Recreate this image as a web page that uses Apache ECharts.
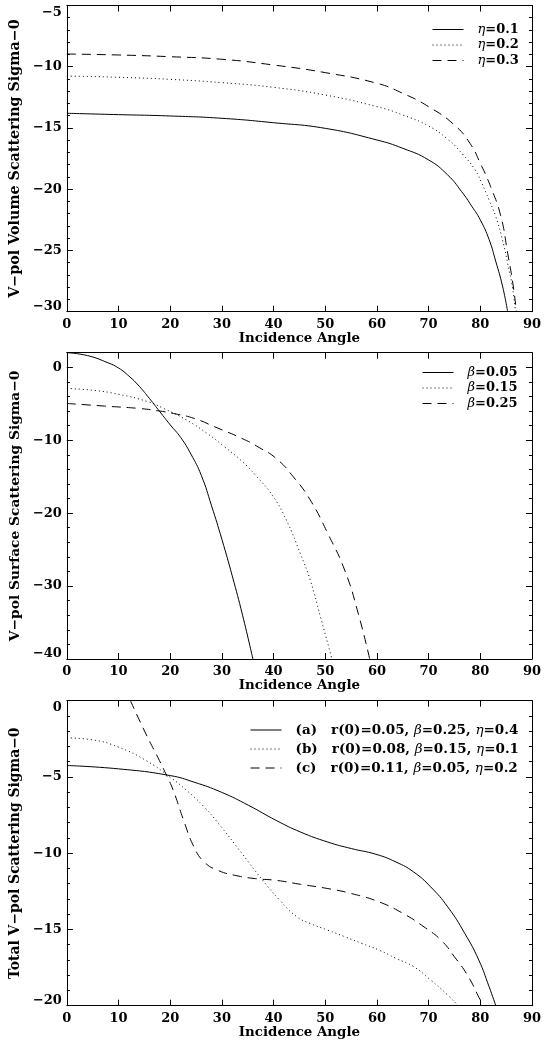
<!DOCTYPE html>
<html>
<head>
<meta charset="utf-8">
<script src="https://cdn.jsdelivr.net/npm/echarts@6/dist/echarts.min.js"></script>
<style>html,body{margin:0;padding:0;background:#fff}#c{width:544px;height:1048px}</style>
</head>
<body>
<div id="c"></div>
<script>
// ---------- Panel 1: V-pol volume scattering ----------
const vol_eta01_x = [0,10,20,30,40,50,60,65,70,73.7,76.4,78.4,80,81.7,83,84.3,85.3];
const vol_eta01_y = [-13.80,-13.91,-14.02,-14.21,-14.57,-15.03,-15.98,-16.66,-17.61,-18.84,-20.2,-21.42,-22.5,-24.1,-25.9,-27.9,-30];
const vol_eta02_x = [0,10,20,30,40,50,60,65,70,73.7,76.7,79,80.3,81.7,83,84.3,85.3,86.2,86.8];
const vol_eta02_y = [-10.76,-10.86,-11.03,-11.30,-11.68,-12.31,-13.26,-13.94,-14.84,-15.92,-17.2,-18.43,-19.51,-20.88,-22.24,-24.14,-26.05,-27.95,-30];
const vol_eta03_x = [0,10,20,30,40,50,60,65,70,75,78,80,82,84,85.3,86.3,87];
const vol_eta03_y = [-8.96,-9.04,-9.18,-9.39,-9.86,-10.48,-11.35,-12.17,-13.26,-14.76,-16.25,-17.88,-19.79,-22.24,-25.23,-27.68,-30];

// ---------- Panel 2: V-pol surface scattering ----------
const srf_b005_x = [0,4,8,10,12,14,16,18,20,22,24,26,28,30,32,34,36];
const srf_b005_y = [2.0,1.6,0.6,-0.1,-1.2,-2.6,-4.3,-6.1,-7.9,-9.6,-11.9,-14.8,-19.0,-23.6,-28.6,-34.0,-40.0];
const srf_b015_x = [0,5,10,15.6,18.6,23.2,27.2,30.5,33.9,36.5,39.8,42.5,45.2,47.1,49.1,51.3];
const srf_b015_y = [-2.9,-3.15,-3.7,-4.7,-5.6,-7.25,-9.1,-10.9,-12.9,-14.8,-17.6,-21.0,-25.6,-29.2,-34.3,-40];
const srf_b025_x = [0,7.3,13.9,17.6,20.6,24.6,28.6,33.9,37.2,40.5,43.8,47.1,50.5,53.8,56.4,58.6];
const srf_b025_y = [-4.96,-5.32,-5.64,-5.96,-6.33,-7.0,-8.16,-9.76,-11.0,-12.5,-15.0,-18.2,-22.8,-27.9,-33.8,-40];

// ---------- Panel 3: total V-pol scattering ----------
const tot_a_x = [0,10,20,24.6,29.9,35.2,40.5,45.2,50.5,55.1,59.8,63.7,67.1,70.4,73.7,77.0,79.7,81.7,83.0];
const tot_a_y = [-4.25,-4.47,-4.91,-5.34,-6.0,-6.87,-7.85,-8.61,-9.27,-9.7,-10.07,-10.58,-11.23,-12.21,-13.52,-15.26,-17.0,-18.75,-20.0];
const tot_b_x = [0,5,10,15.3,20,23.2,26.6,29.9,33.9,37.9,41.2,44.5,47.1,50.5,53.8,57.1,60.4,63.7,67.1,70.4,73.7,75.7];
const tot_b_y = [-2.44,-2.57,-3.05,-3.92,-5.02,-5.89,-6.98,-8.29,-10.03,-11.78,-13.08,-14.17,-14.61,-15.05,-15.48,-15.92,-16.35,-16.9,-17.44,-18.32,-19.3,-20.0];
const tot_c_x = [12.3,15.3,17.9,19.3,20.6,22.6,24.6,26.6,29.2,32.5,36.5,40.5,45.2,50.5,55.1,60.4,65.1,69.1,72.4,75.0,77.7,80.0,80.7];
const tot_c_y = [0,-2.18,-3.92,-4.91,-5.89,-7.85,-9.59,-10.58,-11.12,-11.45,-11.67,-11.78,-12.04,-12.32,-12.65,-13.19,-13.96,-14.83,-15.7,-16.79,-18.1,-19.62,-20.0];

// names / labels
const panel1Names = ['η=0.1','η=0.2','η=0.3'];
const panel2Names = ['β=0.05','β=0.15','β=0.25'];
const panel3Names = ['(a)   r(0)=0.05, β=0.25, η=0.4','(b)   r(0)=0.08, β=0.15, η=0.1','(c)   r(0)=0.11, β=0.05, η=0.2'];
const yTitles = ['V−pol Volume Scattering Sigma−0','V−pol Surface Scattering Sigma−0','Total V−pol Scattering Sigma−0'];
const xTitle = 'Incidence Angle';
const xTicks = {min:0, max:90, interval:10};
const yRanges = [{min:-30,max:-5,interval:5,minor:5},{min:-40,max:2,interval:10,minor:5},{min:-20,max:0,interval:5,minor:5}];

const zip = (xs, ys) => xs.map((x,i)=>[x, ys[i]]);
const FONT = 'DejaVu Serif';
const lbl = {fontFamily: FONT, fontWeight: 'bold', fontSize: 13, color: '#000'};
const styles = ['solid', [1,3], [9,6]];

const grids = [
  {left: 66.7, right: 8, top: 5.5, height: 306.2},
  {left: 66.7, right: 8, top: 352.7, height: 306.3},
  {left: 66.7, right: 8, top: 700.7, height: 305}
];
const yTitleSize = [14.3, 13.8, 13.9];

const numTxt = v => (v < 0 ? '−' + Math.abs(v) : String(v));
const mkFmtY = r => v => {
  if (v > 0) return '';
  const t = numTxt(v);
  if (v === r.max) return '{dn|' + t + '}';
  if (v === r.min) return '{up|' + t + '}';
  return t;
};
const richShift = {
  dn: Object.assign({padding:[14,0,0,0]}, lbl),
  up: Object.assign({padding:[0,0,10,0]}, lbl)
};

const xAxes = [], yAxes = [];
grids.forEach((g, i) => {
  const base = {type:'value', gridIndex:i, min:xTicks.min, max:xTicks.max, interval:xTicks.interval,
    axisLine:{onZero:false, lineStyle:{color:'#000', width:1}},
    axisTick:{inside:true, length:6, lineStyle:{color:'#000'}},
    splitLine:{show:false}};
  xAxes.push(Object.assign({}, base, {position:'bottom',
    axisLabel:Object.assign({margin:6}, lbl),
    name:xTitle, nameLocation:'middle', nameGap:19,
    nameTextStyle:Object.assign({}, lbl, {fontSize:13.4})}));
  xAxes.push(Object.assign({}, base, {position:'top', axisLabel:{show:false}}));
  const r = yRanges[i];
  const ybase = {type:'value', gridIndex:i, min:r.min, max:r.max, interval:r.interval,
    axisLine:{onZero:false, lineStyle:{color:'#000', width:1}},
    axisTick:{inside:true, length:6, lineStyle:{color:'#000'}},
    minorTick:{show: i !== 1, splitNumber:r.minor, length:3, lineStyle:{color:'#000'}},
    splitLine:{show:false}, minorSplitLine:{show:false}};
  yAxes.push(Object.assign({}, ybase, {position:'left',
    axisLabel:Object.assign({margin:5, formatter:mkFmtY(r), rich:richShift}, lbl),
    name:yTitles[i], nameLocation:'middle', nameGap:44, nameRotate:90,
    nameTextStyle:Object.assign({}, lbl, {fontSize:yTitleSize[i]})}));
  yAxes.push(Object.assign({}, ybase, {position:'right', axisLabel:{show:false}}));
});
// panel 2 minor ticks (every 2 units) on both sides
['left','right'].forEach(p => {
  yAxes.push({type:'value', gridIndex:1, position:p, min:yRanges[1].min, max:yRanges[1].max, interval:2,
    axisLine:{show:false, onZero:false}, axisLabel:{show:false}, splitLine:{show:false},
    axisTick:{inside:true, length:3, lineStyle:{color:'#000'}}});
});

const mk = (name, data, k, gi) => ({
  type:'line', name, data, xAxisIndex:gi*2, yAxisIndex:gi*2, symbol:'none',
  smooth:0.5, clip:true,
  lineStyle:{color:'#000', width:1, type:styles[k]}, itemStyle:{color:'#000'}
});

const series = [
  mk(panel1Names[0], zip(vol_eta01_x, vol_eta01_y), 0, 0),
  mk(panel1Names[1], zip(vol_eta02_x, vol_eta02_y), 1, 0),
  mk(panel1Names[2], zip(vol_eta03_x, vol_eta03_y), 2, 0),
  mk(panel2Names[0], zip(srf_b005_x, srf_b005_y), 0, 1),
  mk(panel2Names[1], zip(srf_b015_x, srf_b015_y), 1, 1),
  mk(panel2Names[2], zip(srf_b025_x, srf_b025_y), 2, 1),
  mk(panel3Names[0], zip(tot_a_x, tot_a_y), 0, 2),
  mk(panel3Names[1], zip(tot_b_x, tot_b_y), 1, 2),
  mk(panel3Names[2], zip(tot_c_x, tot_c_y), 2, 2)
];

const mkLegendText = fs => ({
  fontFamily: FONT, fontWeight:'bold', fontSize: fs, color:'#000', padding:[0,0,0,9],
  rich: {g: {fontFamily: FONT, fontStyle:'italic', fontWeight:'normal', fontSize:fs, color:'#000'}}
});
const legFmt = name => name.replace(/[ηβ]/g, m => '{g|' + m + '}');
const mkLegend = (names, left, top, gap, fs) => ({
  data: names, orient:'vertical', left, top, padding:0, itemGap:gap,
  itemWidth:31, itemHeight:14, selectedMode:false, formatter:legFmt,
  textStyle: mkLegendText(fs),
  itemStyle: {opacity:0, color:'rgba(0,0,0,0)', borderWidth:0},
  lineStyle: {color:'#000', width:1}
});

const chart = echarts.init(document.getElementById('c'), null, {renderer:'canvas'});
chart.setOption({
  animation:false,
  backgroundColor:'#fff',
  grid: grids,
  xAxis: xAxes,
  yAxis: yAxes,
  legend: [
    mkLegend(panel1Names, 432, 23, 2.5, 13),
    mkLegend(panel2Names, 422, 366, 2.5, 13),
    mkLegend(panel3Names, 250, 723, 5, 13.5)
  ],
  series
});
</script>
</body>
</html>
